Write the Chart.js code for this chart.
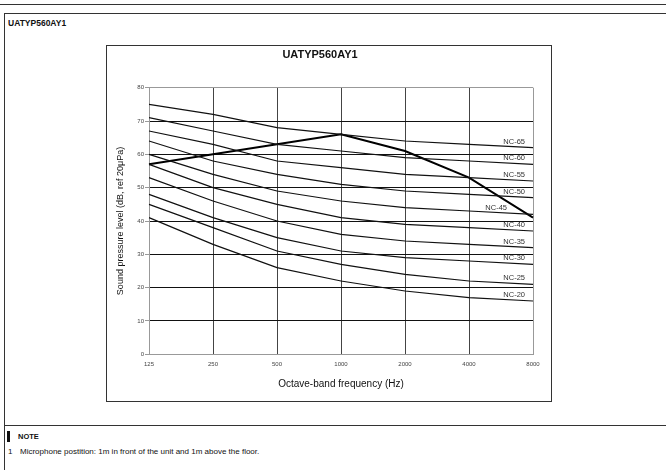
<!DOCTYPE html>
<html>
<head>
<meta charset="utf-8">
<script src="https://cdn.jsdelivr.net/npm/chart.js@4.4.1/dist/chart.umd.min.js"></script>
<style>
  html, body { margin: 0; padding: 0; background: #fff; }
  body { width: 666px; height: 470px; position: relative; overflow: hidden; font-family: "Liberation Sans", Arial, sans-serif; color: #111; }
  .topbox { position: absolute; left: -2px; top: -10px; width: 670px; height: 15px; border: 1.5px solid #333; box-sizing: border-box; }
  .outer { position: absolute; left: 4px; top: 13px; width: 670px; height: 500px; border: 1.5px solid #333; box-sizing: border-box; }
  .outer-title { position: absolute; left: 8px; top: 18px; font-size: 8.5px; font-weight: bold; }
  .inner { position: absolute; left: 106px; top: 45px; width: 446px; height: 357px; border: 1px solid #333; box-sizing: border-box; }
  #wrap { position: absolute; left: 107px; top: 46px; width: 444px; height: 355px; }
  .note-line { position: absolute; left: 4px; top: 425px; width: 662px; border-top: 1px solid #333; }
  .note-bar { position: absolute; left: 7px; top: 431px; width: 3px; height: 11px; background: #111; }
  .note { position: absolute; left: 18px; top: 432px; font-size: 7.5px; font-weight: bold; }
  .note-num { position: absolute; left: 8px; top: 447px; font-size: 8px; }
  .note-text { position: absolute; left: 20px; top: 447px; font-size: 8px; }
</style>
</head>
<body>
<div class="topbox"></div>
<div class="outer"></div>
<div class="outer-title">UATYP560AY1</div>
<div class="inner"></div>
<div id="wrap"><canvas id="nc" width="444" height="355"></canvas></div>
<div class="note-line"></div>
<div class="note-bar"></div>
<div class="note">NOTE</div>
<div class="note-num">1</div>
<div class="note-text">Microphone postition: 1m in front of the unit and 1m above the floor.</div>
<script>
// octave band centre frequencies (Hz)
var freqLabels = ['125', '250', '500', '1000', '2000', '4000', '8000'];

// measured unit
var unitName = 'UATYP560AY1';
var unitValues = [57, 60, 63, 66, 61, 53, 41];

// NC reference curves
var nc65 = [75, 72, 68, 66, 64, 63, 62];
var nc60 = [71, 67, 63, 61, 59, 58, 57];
var nc55 = [67, 63, 58, 56, 54, 53, 52];
var nc50 = [64, 58, 54, 51, 49, 48, 47];
var nc45 = [60, 54, 49, 46, 44, 43, 42];
var nc40 = [57, 50, 45, 41, 39, 38, 37];
var nc35 = [53, 46, 40, 36, 34, 33, 32];
var nc30 = [48, 41, 35, 31, 29, 28, 27];
var nc25 = [45, 38, 31, 27, 24, 22, 21];
var nc20 = [41, 33, 26, 22, 19, 17, 16];

var ncNames = ['NC-65', 'NC-60', 'NC-55', 'NC-50', 'NC-45', 'NC-40', 'NC-35', 'NC-30', 'NC-25', 'NC-20'];
var ncCurves = [nc65, nc60, nc55, nc50, nc45, nc40, nc35, nc30, nc25, nc20];

var yMin = 0, yMax = 80, yStep = 10;

var datasets = [];
for (var i = 0; i < ncCurves.length; i++) {
    datasets.push({
        label: ncNames[i],
        data: ncCurves[i],
        borderColor: '#111',
        borderWidth: 1.2,
        pointRadius: 0,
        tension: 0
    });
}
datasets.push({
    label: unitName,
    data: unitValues,
    borderColor: '#000',
    borderWidth: 2,
    pointRadius: 0,
    tension: 0
});

// writes NC-xx next to the right end of each curve
var ncLabelPlugin = {
    id: 'ncLabels',
    afterDatasetsDraw: function(chart) {
        var ctx = chart.ctx;
        ctx.save();
        ctx.font = '7.5px "Liberation Sans", Arial, sans-serif';
        ctx.fillStyle = '#333';
        ctx.textAlign = 'right';
        ctx.textBaseline = 'middle';
        chart.data.datasets.forEach(function(ds, i) {
            if (ds.label.indexOf('NC-') !== 0) return;
            var meta = chart.getDatasetMeta(i);
            var pt = meta.data[meta.data.length - 1];
            var shift = ds.label === 'NC-45' ? 26 : 8;
            ctx.fillText(ds.label, pt.x - shift, pt.y - 6);
        });
        ctx.restore();
    }
};

const ctx = document.getElementById('nc');
const chart = new Chart(ctx, {
    type: 'line',
    data: {
        labels: freqLabels,
        datasets: datasets
    },
    plugins: [ncLabelPlugin],
    options: {
        responsive: false,
        animation: false,
        devicePixelRatio: 1,
        layout: { padding: { left: 0, right: 18, top: 0, bottom: 0 } },
        plugins: {
            legend: { display: false },
            tooltip: { enabled: false },
            title: {
                display: true,
                text: unitName,
                color: '#111',
                font: { family: '"Liberation Sans", Arial, sans-serif', size: 11, weight: 'bold' },
                padding: { top: 2.4, bottom: 26.1 }
            }
        },
        scales: {
            x: {
                offset: false,
                grid: {
                    color: function(c) { return c.index === freqLabels.length - 1 ? '#999' : '#444'; },
                    lineWidth: 1,
                    drawTicks: false
                },
                border: { color: '#999' },
                ticks: {
                    color: '#444',
                    font: { family: '"Liberation Sans", Arial, sans-serif', size: 6 },
                    padding: 6,
                    maxRotation: 0,
                    autoSkip: false
                },
                title: {
                    display: true,
                    text: 'Octave-band frequency (Hz)',
                    color: '#111',
                    font: { family: '"Liberation Sans", Arial, sans-serif', size: 10 },
                    padding: { top: 0, bottom: 11 }
                },
                afterFit: function(s) { s.height = 46.7; }
            },
            y: {
                min: yMin,
                max: yMax,
                grid: {
                    color: function(c) { return c.tick.value === yMax ? '#999' : '#111'; },
                    lineWidth: 1,
                    tickLength: 4,
                    tickColor: '#999'
                },
                border: { color: '#999' },
                ticks: {
                    stepSize: yStep,
                    color: '#444',
                    font: { family: '"Liberation Sans", Arial, sans-serif', size: 6 },
                    padding: 1
                },
                title: {
                    display: true,
                    text: 'Sound pressure level (dB, ref 20\u03bcPa)',
                    color: '#111',
                    font: { family: '"Liberation Sans", Arial, sans-serif', size: 9 },
                    padding: { top: 8, bottom: 0 }
                },
                afterFit: function(s) { s.width = 42; }
            }
        }
    }
});
</script>
</body>
</html>
